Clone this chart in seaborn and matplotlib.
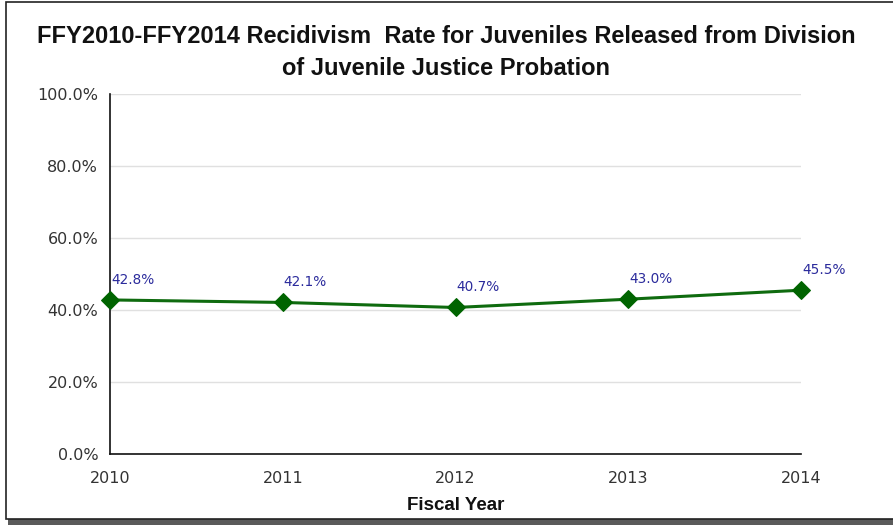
import matplotlib
matplotlib.use("Agg")
import matplotlib.pyplot as plt
from matplotlib.patches import Rectangle
from matplotlib.ticker import MultipleLocator, FuncFormatter
import seaborn as sns
import pandas as pd

years = [2010, 2011, 2012, 2013, 2014]
rates = [42.8, 42.1, 40.7, 43.0, 45.5]
y_ticks = [0, 20, 40, 60, 80, 100]

title = "FFY2010-FFY2014 Recidivism  Rate for Juveniles Released from Division\nof Juvenile Justice Probation"
x_label = "Fiscal Year"

df = pd.DataFrame({"year": years, "rate": rates})

sns.set_theme(style="white")
plt.rcParams["font.family"] = ["DejaVu Sans"]

fig = plt.figure(figsize=(8.93, 5.25), dpi=100)
ax = fig.add_axes([0.1232, 0.1352, 0.7738, 0.6858])
ax.patch.set_alpha(0)

# frame with drop shadow around the whole chart
fig.patches.append(Rectangle((8 / 893, 0.0), 1.0, 6 / 525, transform=fig.transFigure,
                             facecolor="#5a5a5a", edgecolor="none", zorder=-2))
fig.patches.append(Rectangle((6 / 893, 6 / 525), 1.0, 517 / 525, transform=fig.transFigure,
                             facecolor="white", edgecolor="#222222", linewidth=1.2, zorder=-1))

line_color = "#0f6b0f"
sns.lineplot(data=df, x="year", y="rate", ax=ax, color=line_color, linewidth=2.2,
             marker="D", markersize=9.5, markeredgecolor="#006400",
             markerfacecolor="#006400", zorder=5, clip_on=False)

for yr, r in zip(years, rates):
    ax.annotate(f"{r:.1f}%", (yr, r), xytext=(1, 20), textcoords="offset pixels",
                ha="left", va="center", color="#2b2b9c", fontsize=9.8)

ax.set_xlim(2010, 2014)
ax.set_ylim(0, 100)
ax.set_xticks(years)
ax.set_xticklabels([str(y) for y in years])
ax.set_yticks(y_ticks)
ax.yaxis.set_minor_locator(MultipleLocator(10))
ax.yaxis.set_major_formatter(FuncFormatter(lambda v, p: f"{v:.1f}%"))

ax.grid(axis="y", color="#e0e0e0", linewidth=1)
ax.set_axisbelow(True)
for s in ["top", "right"]:
    ax.spines[s].set_visible(False)
for s in ["left", "bottom"]:
    ax.spines[s].set_color("#111111")
    ax.spines[s].set_linewidth(1.2)

ax.tick_params(axis="both", which="both", direction="in", color="#111111",
               labelcolor="#333333", labelsize=11.5)
ax.tick_params(axis="y", which="major", length=5, width=1, pad=8.5)
ax.tick_params(axis="y", which="minor", length=5, width=1)
ax.tick_params(axis="x", which="major", length=6, width=1, pad=12)

ax.set_xlabel(x_label, fontsize=13.5, fontweight="bold", family="Liberation Sans",
              color="#111111", labelpad=8)
ax.set_ylabel("")

fig.text(0.5, 0.9, title, ha="center", va="center", fontsize=17, fontweight="bold",
         family="Liberation Sans", color="#111111", linespacing=1.55)

fig.savefig("out.png", dpi=100)
